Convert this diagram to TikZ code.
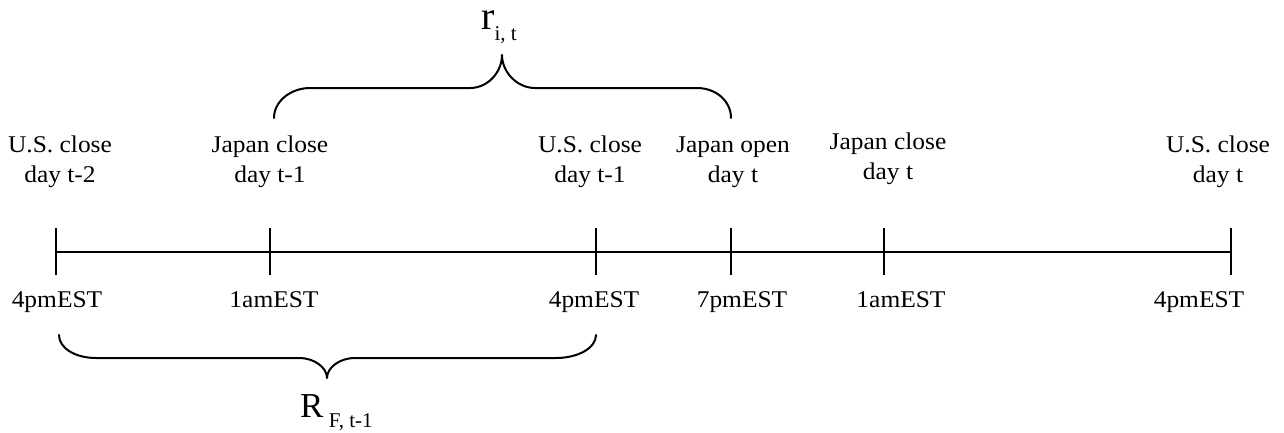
\documentclass[tikz,border=0pt]{standalone}
\usepackage{fontspec}
\setmainfont{Liberation Serif}
\newfontfamily\lblfont{Liberation Serif}[FakeStretch=1.06]
\begin{document}
\begin{tikzpicture}[x=1pt,y=-1pt,
  lbl/.style={font=\lblfont\fontsize{24}{30}\selectfont, inner sep=0pt, align=center},
  timelbl/.style={font=\lblfont\fontsize{24}{30}\selectfont, inner sep=0pt, anchor=base},
  axisline/.style={line width=2pt},
  bracepath/.style={line width=2pt, line join=round, line cap=round},
  retlbl/.style={inner sep=0pt, anchor=base west}]
\useasboundingbox (0,0) rectangle (1284,432);

% tick positions on the time line
\coordinate (t1) at (56,251.5);
\coordinate (t2) at (270,251.5);
\coordinate (t3) at (596,251.5);
\coordinate (t4) at (731,251.5);
\coordinate (t5) at (884,251.5);
\coordinate (t6) at (1231,251.5);

\draw[axisline] (t1) -- (t6);
\foreach \t in {t1,t2,t3,t4,t5,t6}
  \draw[axisline] (\t) ++(0,-23.5) -- ++(0,47);

% market events above the line
\node[lbl, anchor=south] (e1) at (60,188)  {U.S. close\\day t-2};
\node[lbl, anchor=south] (e2) at (270,188) {Japan close\\day t-1};
\node[lbl, anchor=south] (e3) at (590,188) {U.S. close\\day t-1};
\node[lbl, anchor=south] (e4) at (733,188) {Japan open\\day t};
\node[lbl, anchor=south] (e5) at (888,185) {Japan close\\day t};
\node[lbl, anchor=south] (e6) at (1218,188) {U.S. close\\day t};

% clock times below the line
\node[timelbl] (c1) at (57,307)   {4pmEST};
\node[timelbl] (c2) at (274,307)  {1amEST};
\node[timelbl] (c3) at (594,307)  {4pmEST};
\node[timelbl] (c4) at (742,307)  {7pmEST};
\node[timelbl] (c5) at (901,307)  {1amEST};
\node[timelbl] (c6) at (1199,307) {4pmEST};

% brace over the Japanese return window
\coordinate (ta) at (274,118);
\coordinate (tb) at (731,118);
\coordinate (ttip) at (502,55);
\draw[bracepath] (ta) .. controls (274,101) and (291,88) .. (310,88)
  -- (470,88) .. controls (488,88) and (502,72) .. (ttip)
  .. controls (502,72) and (517,88) .. (535,88)
  -- (697,88) .. controls (716,88) and (731,101) .. (tb);

% brace under the U.S. return window
\coordinate (ba) at (59,335);
\coordinate (bb) at (596,335);
\coordinate (btip) at (327,378);
\draw[bracepath] (ba) .. controls (59,348) and (75,358) .. (96,358)
  -- (299,358) .. controls (315,358) and (327,368) .. (btip)
  .. controls (327,368) and (339,358) .. (355,358)
  -- (556,358) .. controls (578,358) and (596,348) .. (bb);

% return labels
\node[retlbl] (rit) at (481,29)
  {\fontsize{40}{40}\selectfont r\raisebox{-11pt}{\fontsize{21}{21}\selectfont i, t}};
\node[retlbl] (rft) at (300,417)
  {\fontsize{35}{35}\selectfont R\raisebox{-10pt}{\fontsize{21}{21}\selectfont\ F, t-1}};
\end{tikzpicture}
\end{document}
